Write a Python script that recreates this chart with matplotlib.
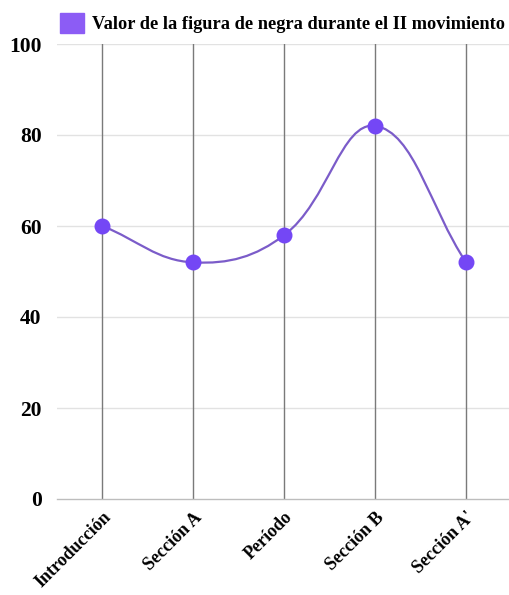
import numpy as np
import matplotlib
matplotlib.use("Agg")
import matplotlib.pyplot as plt
from matplotlib.path import Path
from matplotlib.patches import PathPatch, Patch

# sections of the second movement and the value of the quarter note in each
secciones = ["Introducción", "Sección A", "Período", "Sección B", "Sección A'"]
valores = [60, 52, 58, 82, 52]
y_ticks = [0, 20, 40, 60, 80, 100]
leyenda = "Valor de la figura de negra durante el II movimiento"

color_punto = "#7447F5"
color_linea = "#7B5CC9"

plt.rcParams["font.family"] = ["Liberation Serif", "DejaVu Serif"]
plt.rcParams["font.weight"] = "bold"

fig = plt.figure(figsize=(5.09, 5.95), dpi=100)
ax = fig.add_axes([57 / 509, 1 - 499 / 595, 1 - 57 / 509 + 0.005, (499 - 44) / 595])

x = np.arange(len(secciones))
ax.set_xlim(-0.5, len(secciones) - 0.5)
ax.set_ylim(0, 100)


def spline_path(xs, ys, tension=0.4):
    # cubic bezier through the points, control points picked in pixel space
    pts = ax.transData.transform(np.column_stack([xs, ys]))
    n = len(pts)
    verts = [pts[0]]
    codes = [Path.MOVETO]
    cps = []
    for i in range(n):
        prev = pts[max(i - 1, 0)]
        cur = pts[i]
        nxt = pts[min(i + 1, n - 1)]
        d01 = np.hypot(*(cur - prev))
        d12 = np.hypot(*(nxt - cur))
        tot = d01 + d12
        s01 = d01 / tot if tot else 0
        s12 = d12 / tot if tot else 0
        c1 = cur - tension * s01 * (nxt - prev)
        c2 = cur + tension * s12 * (nxt - prev)
        cps.append((c1, c2))
    for i in range(1, n):
        verts += [cps[i - 1][1], cps[i][0], pts[i]]
        codes += [Path.CURVE4] * 3
    inv = ax.transData.inverted()
    return Path(inv.transform(np.array(verts)), codes)


# grid
for yv in y_ticks[1:]:
    ax.axhline(yv, color="#e2e2e2", lw=1, zorder=0)
for xi in x:
    ax.axvline(xi, color="#7a7a7a", lw=1, zorder=0.5)

ax.add_patch(PathPatch(spline_path(x, valores), facecolor="none",
                       edgecolor=color_linea, lw=1.6, zorder=2))
ax.scatter(x, valores, s=110, color=color_punto, edgecolors=color_punto,
           zorder=3)

for s in ["top", "right", "left"]:
    ax.spines[s].set_visible(False)
ax.spines["bottom"].set_color("#bdbdbd")
ax.spines["bottom"].set_linewidth(1)

ax.set_yticks(y_ticks)
ax.set_yticklabels([str(v) for v in y_ticks], fontsize=15.5, fontweight="bold")
ax.tick_params(axis="y", length=0, pad=11)
ax.set_xticks(x)
ax.set_xticklabels(secciones, fontsize=13, fontweight="bold", rotation=45,
                   ha="right", rotation_mode="anchor")
ax.tick_params(axis="x", length=0, pad=7)

fig.legend(handles=[Patch(facecolor="#8C5CF5", edgecolor="#8C5CF5", label=leyenda)],
           loc="upper left", bbox_to_anchor=(47 / 509, 1.0), frameon=False,
           handlelength=1.3, handleheight=1.3, handletextpad=0.45,
           borderaxespad=0.3, prop={"weight": "bold", "size": 13.2})

fig.savefig("out.png", dpi=100)
